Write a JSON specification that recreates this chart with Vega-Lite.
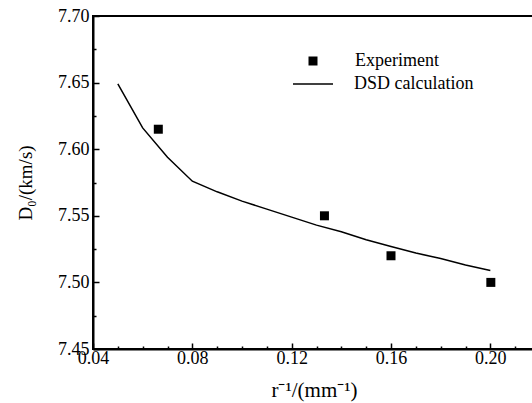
{
  "$schema": "https://vega.github.io/schema/vega-lite/v6.json",
  "width": 447,
  "height": 333,
  "autosize": {"type": "none"},
  "padding": {"left": 93, "top": 16, "right": 0, "bottom": 54},
  "background": "white",
  "config": {
    "font": "Liberation Serif",
    "view": {"stroke": "black", "strokeWidth": 2},
    "axis": {
      "domainColor": "black",
      "domainWidth": 2,
      "tickColor": "black",
      "tickWidth": 1.5,
      "labelColor": "black",
      "titleColor": "black",
      "labelFont": "Liberation Serif",
      "titleFont": "Liberation Serif",
      "labelFontSize": 18,
      "titleFontSize": 19,
      "titleFontWeight": "normal",
      "grid": false
    },
    "legend": {
      "labelFont": "Liberation Serif",
      "labelFontSize": 18,
      "labelColor": "black",
      "title": null,
      "padding": 0
    }
  },
  "datasets": {
    "exp": [
      {"x": 0.0663, "y": 7.615, "series": "Experiment"},
      {"x": 0.1332, "y": 7.550, "series": "Experiment"},
      {"x": 0.1600, "y": 7.520, "series": "Experiment"},
      {"x": 0.2002, "y": 7.500, "series": "Experiment"}
    ],
    "dsd": [
      {"x": 0.05, "y": 7.649, "series": "DSD calculation"},
      {"x": 0.06, "y": 7.616, "series": "DSD calculation"},
      {"x": 0.07, "y": 7.594, "series": "DSD calculation"},
      {"x": 0.08, "y": 7.576, "series": "DSD calculation"},
      {"x": 0.09, "y": 7.568, "series": "DSD calculation"},
      {"x": 0.10, "y": 7.561, "series": "DSD calculation"},
      {"x": 0.11, "y": 7.555, "series": "DSD calculation"},
      {"x": 0.12, "y": 7.549, "series": "DSD calculation"},
      {"x": 0.13, "y": 7.543, "series": "DSD calculation"},
      {"x": 0.14, "y": 7.538, "series": "DSD calculation"},
      {"x": 0.15, "y": 7.532, "series": "DSD calculation"},
      {"x": 0.16, "y": 7.527, "series": "DSD calculation"},
      {"x": 0.17, "y": 7.522, "series": "DSD calculation"},
      {"x": 0.18, "y": 7.518, "series": "DSD calculation"},
      {"x": 0.19, "y": 7.513, "series": "DSD calculation"},
      {"x": 0.20, "y": 7.509, "series": "DSD calculation"}
    ]
  },
  "encoding": {
    "x": {
      "field": "x",
      "type": "quantitative",
      "scale": {"domain": [0.04, 0.22], "nice": false, "zero": false},
      "axis": {
        "title": "r⁻¹/(mm⁻¹)",
        "values": [0.04, 0.05, 0.06, 0.07, 0.08, 0.09, 0.10, 0.11, 0.12, 0.13, 0.14, 0.15, 0.16, 0.17, 0.18, 0.19, 0.20, 0.21, 0.22],
        "labelExpr": "abs(datum.value*25 - round(datum.value*25)) < 0.001 ? format(datum.value, '.2f') : ''",
        "tickSize": {"condition": {"test": "abs(datum.value*25 - round(datum.value*25)) < 0.001", "value": -6}, "value": -3},
        "labelPadding": 6,
        "labelFlush": false,
        "labelOverlap": false,
        "titleFontSize": 21,
        "titlePadding": 9,
        "titleX": 221
      }
    },
    "y": {
      "field": "y",
      "type": "quantitative",
      "scale": {"domain": [7.45, 7.70], "nice": false, "zero": false},
      "axis": {
        "title": "D₀/(km/s)",
        "values": [7.45, 7.475, 7.5, 7.525, 7.55, 7.575, 7.6, 7.625, 7.65, 7.675, 7.7],
        "labelExpr": "abs(datum.value*20 - round(datum.value*20)) < 0.001 ? format(datum.value, '.2f') : ''",
        "tickSize": {"condition": {"test": "abs(datum.value*20 - round(datum.value*20)) < 0.001", "value": -6}, "value": -3},
        "labelPadding": 10,
        "labelFlush": false,
        "labelOverlap": false,
        "titlePadding": 22
      }
    }
  },
  "layer": [
    {
      "data": {"name": "dsd"},
      "mark": {"type": "line", "strokeWidth": 1.5},
      "encoding": {
        "color": {
          "field": "series",
          "type": "nominal",
          "scale": {"domain": ["DSD calculation"], "range": ["black"]},
          "legend": {
            "orient": "none",
            "legendX": 199,
            "legendY": 47,
            "symbolType": "stroke",
            "symbolSize": 1600,
            "symbolStrokeWidth": 1.5,
            "symbolStrokeColor": "black",
            "labelOffset": 20
          }
        }
      }
    },
    {
      "data": {"name": "exp"},
      "mark": {"type": "point", "filled": true, "color": "black", "opacity": 1, "size": 81},
      "encoding": {
        "shape": {
          "field": "series",
          "type": "nominal",
          "scale": {"domain": ["Experiment"], "range": ["square"]},
          "legend": {
            "orient": "none",
            "legendX": 211,
            "legendY": 36,
            "symbolSize": 81,
            "symbolFillColor": "black",
            "symbolOpacity": 1,
            "labelOffset": 33
          }
        }
      }
    }
  ]
}
